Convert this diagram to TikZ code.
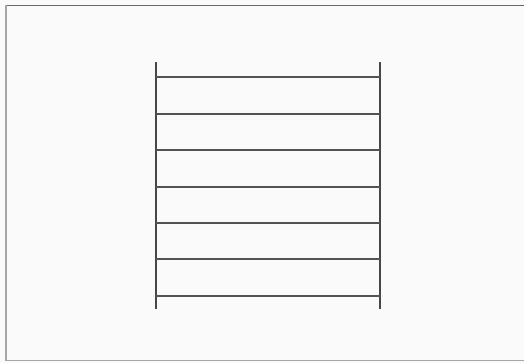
\documentclass[tikz,border=0pt]{standalone}
\begin{document}
\begin{tikzpicture}[x=1pt,y=-1pt,
  frameline/.style={line width=1.8pt,draw=black!60},
  frameedge/.style={line width=1.5pt,draw=black!35},
  post/.style={line width=2.2pt,draw=black!72},
  rung/.style={line width=1.7pt,draw=black!68}]
\useasboundingbox (0,0) rectangle (524,363);
\fill[black!2] (0,0) rectangle (524,363);
% frame
\draw[frameline] (5,5.5) -- (524,5.5);
\draw[frameedge] (6,5.5) -- (6,361);
\draw[frameedge] (6,360.5) -- (524,360.5);
% posts
\coordinate (lt) at (155.7,62.5);
\coordinate (lb) at (155.7,309);
\coordinate (rt) at (380,62.5);
\coordinate (rb) at (380,309);
\draw[post] (lt) -- (lb);
\draw[post] (rt) -- (rb);
% rungs
\foreach \y in {77.3,114.3,150.3,186.7,222.7,259.3,295.7}
  \draw[rung] (155.7,\y) -- (380,\y);
\end{tikzpicture}
\end{document}
